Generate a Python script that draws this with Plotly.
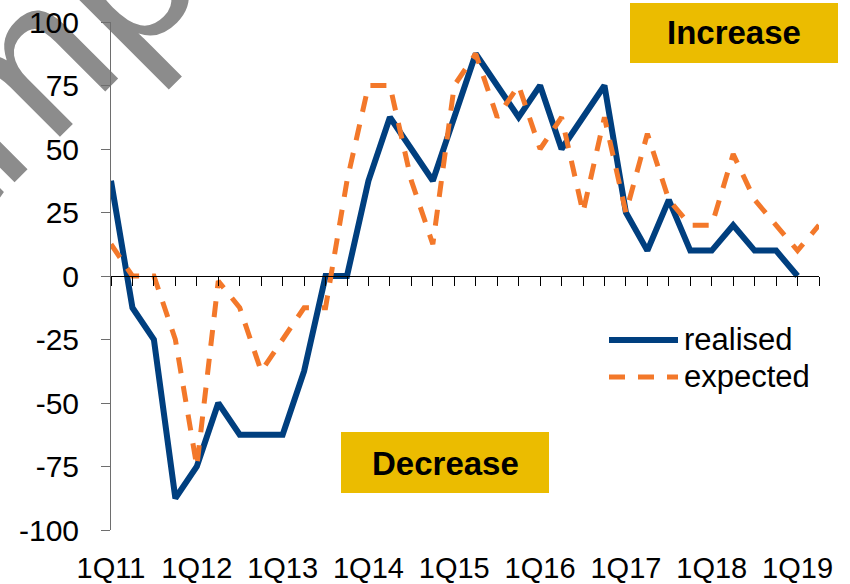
import plotly.graph_objects as go

quarters = ["1Q11", "2Q11", "3Q11", "4Q11", "1Q12", "2Q12", "3Q12", "4Q12",
            "1Q13", "2Q13", "3Q13", "4Q13", "1Q14", "2Q14", "3Q14", "4Q14",
            "1Q15", "2Q15", "3Q15", "4Q15", "1Q16", "2Q16", "3Q16", "4Q16",
            "1Q17", "2Q17", "3Q17", "4Q17", "1Q18", "2Q18", "3Q18", "4Q18",
            "1Q19", "2Q19"]
realised = [37.5, -12.5, -25, -87.5, -75, -50, -62.5, -62.5, -62.5, -37.5, 0, 0,
            37.5, 62.5, 50, 37.5, 62.5, 87.5, 75, 62.5, 75, 50, 62.5, 75,
            25, 10, 30, 10, 10, 20, 10, 10, 0]
expected = [12.5, 0, 0, -25, -75, -2, -12.5, -37.5, -25, -12.5, -12.5, 37.5,
            75, 75, 37.5, 12.5, 75, 87.5, 62.5, 75, 50, 62.5, 25, 62.5,
            25, 56, 30, 20, 20, 48, 30, 20, 10, 20]
year_labels = ["1Q11", "1Q12", "1Q13", "1Q14", "1Q15", "1Q16", "1Q17", "1Q18", "1Q19"]
y_ticks = [-100, -75, -50, -25, 0, 25, 50, 75, 100]
y_tick_text = ["-100", "-75", "-50", "-25", "0", "25", "50", "75", "100"]

BLUE = "#003F7F"
ORANGE = "#F3782A"
YELLOW = "#EBBC00"
FONT = "Liberation Sans, Arial, sans-serif"

fig = go.Figure()
fig.add_trace(go.Scatter(x=quarters[:len(realised)], y=realised, mode="lines",
                         name="realised", line=dict(color=BLUE, width=6),
                         xaxis="x", yaxis="y", showlegend=False))
fig.add_trace(go.Scatter(x=quarters, y=expected, mode="lines",
                         name="expected",
                         line=dict(color=ORANGE, width=5, dash="16px,13px"),
                         xaxis="x2", yaxis="y", showlegend=False))

W, H = 850, 584
L, R, T, B = 111, 31, 22, 54
pw, ph = W - L - R, H - T - B


def px(x):
    return (x - L) / pw


def py(y):
    return (H - B - y) / ph


# watermark (below traces)
fig.add_shape(type="rect", xref="paper", yref="paper",
              x0=px(4), x1=px(14), y0=py(62), y1=py(52),
              line=dict(width=0), fillcolor="rgba(0,0,0,0)", layer="below",
              label=dict(text="Sample", textangle=-45, textposition="middle center",
                         font=dict(size=210, color="#8C8C8C", family=FONT)))

# category boxes
fig.add_shape(type="rect", xref="paper", yref="paper",
              x0=px(630), x1=px(838), y0=py(63), y1=py(3),
              line=dict(width=0), fillcolor=YELLOW, layer="above")
fig.add_annotation(xref="paper", yref="paper", x=px(734), y=py(33),
                   xanchor="center", yanchor="middle",
                   text="<b>Increase</b>", showarrow=False,
                   font=dict(size=33, color="black", family=FONT))
fig.add_shape(type="rect", xref="paper", yref="paper",
              x0=px(341), x1=px(549), y0=py(493), y1=py(432),
              line=dict(width=0), fillcolor=YELLOW, layer="above")
fig.add_annotation(xref="paper", yref="paper", x=px(445), y=py(463),
                   xanchor="center", yanchor="middle",
                   text="<b>Decrease</b>", showarrow=False,
                   font=dict(size=33, color="black", family=FONT))

# legend
fig.add_shape(type="line", xref="paper", yref="paper",
              x0=px(609), x1=px(678), y0=py(340), y1=py(340),
              line=dict(color=BLUE, width=6))
fig.add_shape(type="line", xref="paper", yref="paper",
              x0=px(609), x1=px(678), y0=py(377), y1=py(377),
              line=dict(color=ORANGE, width=5, dash="16px,13px"))
fig.add_annotation(xref="paper", yref="paper", x=px(682), y=py(339),
                   xanchor="left", yanchor="middle", text="realised", showarrow=False,
                   font=dict(size=31, color="black", family=FONT))
fig.add_annotation(xref="paper", yref="paper", x=px(682), y=py(376),
                   xanchor="left", yanchor="middle", text="expected", showarrow=False,
                   font=dict(size=31, color="black", family=FONT))

fig.update_layout(
    width=W, height=H,
    margin=dict(l=L, r=R, t=T, b=B, autoexpand=False),
    paper_bgcolor="white", plot_bgcolor="rgba(0,0,0,0)",
    showlegend=False,
    font=dict(family=FONT, size=28, color="black"),
    xaxis=dict(type="category", categoryorder="array", categoryarray=quarters,
               range=[0, 33], showline=False, ticks="", showgrid=False,
               zeroline=False, tickmode="array", tickvals=year_labels,
               ticktext=year_labels, tickfont=dict(size=29, family=FONT, color="black"),
               ticklabelstandoff=18, automargin=False),
    xaxis2=dict(type="category", categoryorder="array", categoryarray=quarters,
                range=[0, 33], overlaying="x", anchor="free", position=0.5,
                showline=True, linecolor="black", linewidth=1,
                ticks="outside", ticklen=9, tickcolor="black", tickwidth=1,
                tickmode="linear", tick0=0, dtick=1, automargin=False,
                showticklabels=False, showgrid=False, zeroline=False),
    yaxis=dict(range=[-100, 100], tickmode="array", tickvals=y_ticks,
               ticktext=y_tick_text, showline=True,
               linecolor="#6E6E6E", linewidth=1, ticks="outside", ticklen=9,
               tickcolor="#6E6E6E", showgrid=False, zeroline=False,
               tickfont=dict(size=30, family=FONT, color="black"),
               ticklabelstandoff=16, automargin=False),
)

fig.write_html("out.html", config={"displayModeBar": False},
               post_script="document.body.style.margin='0';document.body.style.overflow='hidden';")
